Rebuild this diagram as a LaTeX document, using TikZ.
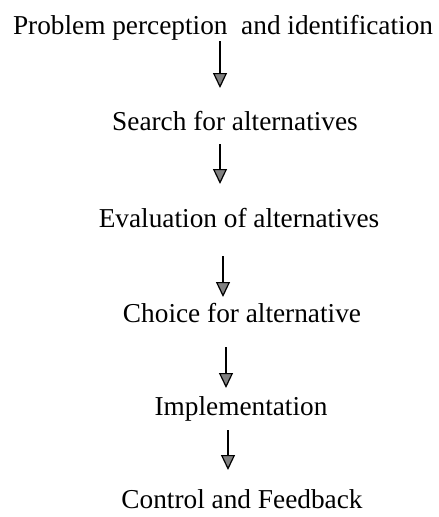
\documentclass[tikz,border=0pt]{standalone}
\usepackage{fontspec}
\setmainfont{Liberation Serif}
\usetikzlibrary{arrows.meta}
\begin{document}
\begin{tikzpicture}[x=1pt,y=-1pt,
    steptext/.style={font=\fontsize{27.3}{32}\selectfont, inner sep=0pt, anchor=base},
    flow/.style={line width=1.2pt, -{Triangle[width=14pt,length=15pt,fill=gray]}}]
    \useasboundingbox (0,0) rectangle (439,517);
    \node[steptext] (perc) at (223,34) {Problem perception\ \ and identification};
    \node[steptext] (srch) at (235,130) {Search for alternatives};
    \node[steptext] (eval) at (239,227) {Evaluation of alternatives};
    \node[steptext] (choice) at (242,322) {Choice for alternative};
    \node[steptext] (impl) at (241,415) {Implementation};
    \node[steptext] (ctrl) at (242,508) {Control and Feedback};
    % arrows sit a little left of the text centres
    \coordinate (a1s) at (220,41);  \coordinate (a1e) at (220,88);
    \coordinate (a2s) at (220,144); \coordinate (a2e) at (220,184);
    \coordinate (a3s) at (223,256); \coordinate (a3e) at (223,297);
    \coordinate (a4s) at (226,347); \coordinate (a4e) at (226,388);
    \coordinate (a5s) at (228,430); \coordinate (a5e) at (228,470);
    \draw[flow] (a1s) -- (a1e);
    \draw[flow] (a2s) -- (a2e);
    \draw[flow] (a3s) -- (a3e);
    \draw[flow] (a4s) -- (a4e);
    \draw[flow] (a5s) -- (a5e);
\end{tikzpicture}
\end{document}
